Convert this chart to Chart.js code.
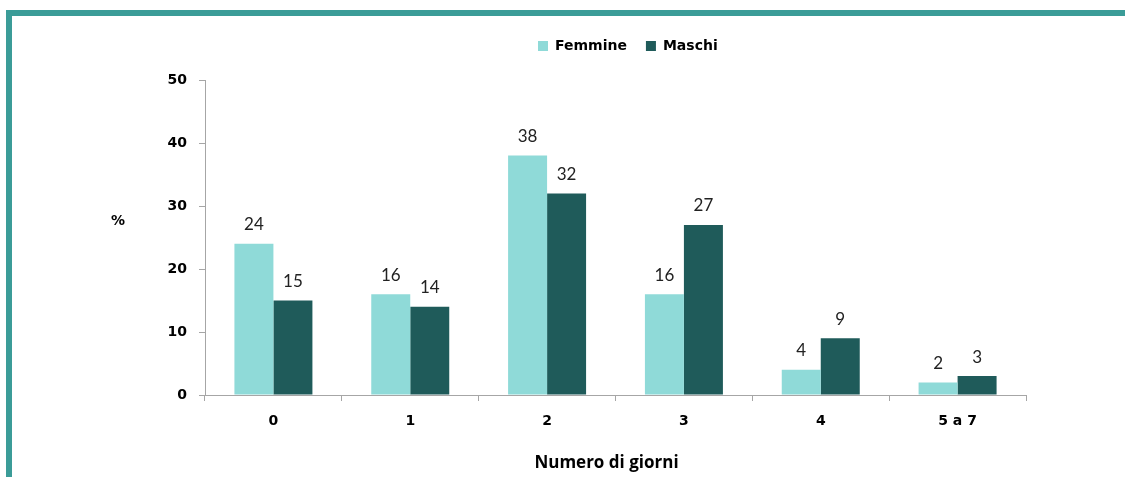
<!DOCTYPE html>
<html>
<head>
<meta charset="utf-8">
<script src="https://cdn.jsdelivr.net/npm/chart.js@4/dist/chart.umd.min.js"></script>
<style>
  html, body { margin: 0; padding: 0; background: #fff; }
  #wrap { position: relative; width: 1125px; height: 477px; overflow: hidden; }
  #frame { position: absolute; left: 6px; top: 10px; width: 1200px; height: 500px; border-left: 6px solid #3b9c98; border-top: 6px solid #3b9c98; }
  #c { position: absolute; left: 0; top: 0; }
</style>
</head>
<body>
<div id="wrap">
  <div id="frame"></div>
  <canvas id="c" width="1125" height="477"></canvas>
</div>
<script>
// dati
const categories = ['0', '1', '2', '3', '4', '5 a 7'];
const femmine = [24, 16, 38, 16, 4, 2];
const maschi = [15, 14, 32, 27, 9, 3];
const yTicks = [0, 10, 20, 30, 40, 50];

const colFemmine = '#8fdad8';
const colMaschi = '#1f5b5a';
const axisGray = '#a6a6a6';

// etichette sopra le barre
const barLabels = {
  id: 'barLabels',
  afterDatasetsDraw(chart) {
    const ctx = chart.ctx;
    ctx.save();
    ctx.font = '17px Lato';
    ctx.fillStyle = '#222';
    ctx.textAlign = 'center';
    ctx.textBaseline = 'middle';
    chart.data.datasets.forEach((ds, i) => {
      chart.getDatasetMeta(i).data.forEach((bar, j) => {
        ctx.fillText(String(ds.data[j]), bar.x, bar.y - 19);
      });
    });
    ctx.restore();
  }
};

// legenda spostata a destra come nell'originale, simbolo % e titolo asse x
const extras = {
  id: 'extras',
  afterDraw(chart) {
    const ctx = chart.ctx;
    const a = chart.chartArea;
    ctx.save();
    ctx.textBaseline = 'middle';
    ctx.fillStyle = '#000';
    ctx.textAlign = 'center';
    ctx.font = 'bold 17px "Open Sans"';
    ctx.fillText('Numero di giorni', (a.left + a.right) / 2 - 9, a.bottom + 68);
    ctx.font = 'bold 14px "DejaVu Sans"';
    ctx.fillText('%', a.left - 87, a.top + 141);
    ctx.textAlign = 'left';
    let x = 538;
    const y = 46;
    chart.data.datasets.forEach(ds => {
      ctx.fillStyle = ds.backgroundColor;
      ctx.fillRect(x, y - 5, 10, 10);
      ctx.fillStyle = '#000';
      ctx.fillText(ds.label, x + 17, y);
      x += 17 + ctx.measureText(ds.label).width + 19;
    });
    ctx.restore();
  }
};

new Chart(document.getElementById('c'), {
  type: 'bar',
  data: {
    labels: categories,
    datasets: [
      { label: 'Femmine', data: femmine, backgroundColor: colFemmine },
      { label: 'Maschi', data: maschi, backgroundColor: colMaschi }
    ]
  },
  options: {
    responsive: false,
    animation: false,
    layout: { padding: { left: 0, right: 99, top: 80, bottom: 0 } },
    datasets: { bar: { barPercentage: 1, categoryPercentage: 0.57 } },
    plugins: { legend: { display: false }, tooltip: { enabled: false } },
    scales: {
      x: {
        grid: { drawOnChartArea: false, drawTicks: true, tickLength: 6, color: axisGray, offset: true },
        border: { display: true, color: axisGray, width: 1 },
        ticks: { color: '#000', font: { family: 'DejaVu Sans', size: 14, weight: 'bold' }, padding: 12 },
        afterFit(scale) { scale.height = 82; }
      },
      y: {
        min: 0,
        max: 50,
        afterBuildTicks(scale) { scale.ticks = yTicks.map(v => ({ value: v })); },
        grid: { drawOnChartArea: false, drawTicks: true, tickLength: 6, color: axisGray },
        border: { display: true, color: axisGray, width: 1 },
        ticks: { color: '#000', font: { family: 'DejaVu Sans', size: 14, weight: 'bold' }, padding: 12 },
        afterFit(scale) { scale.width = 205; }
      }
    }
  },
  plugins: [barLabels, extras]
});
</script>
</body>
</html>
